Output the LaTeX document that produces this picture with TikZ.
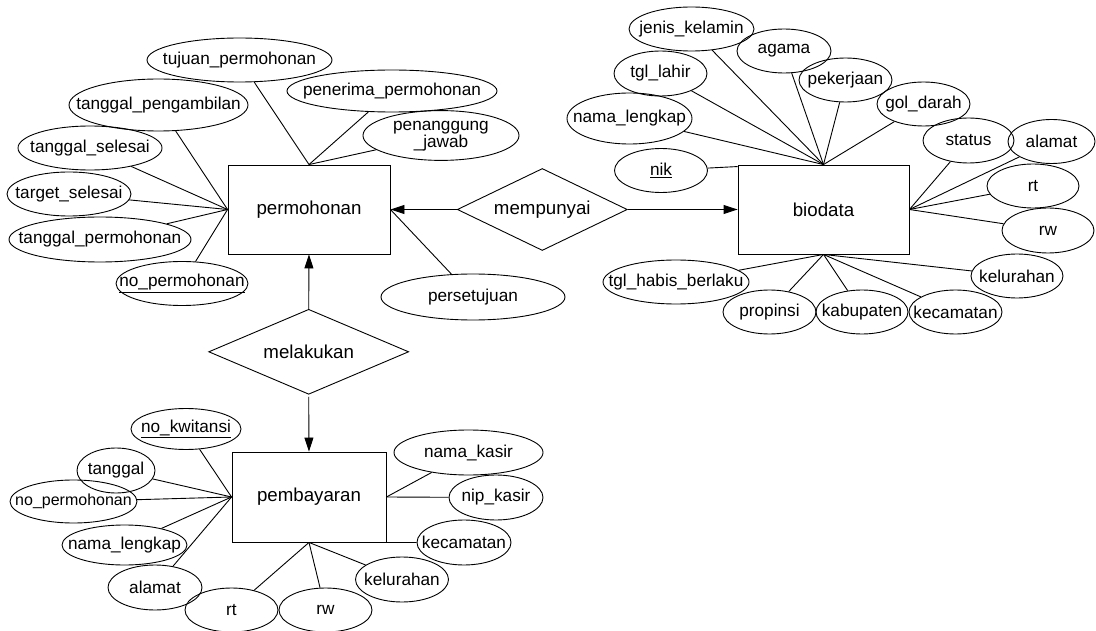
\documentclass[tikz,border=0pt]{standalone}
\usepackage{fontspec}
\setmainfont{Liberation Sans}
\usetikzlibrary{shapes.geometric,arrows.meta}
\newcommand\zb[1]{\makebox[0pt]{#1}}
\begin{document}
\begin{tikzpicture}[x=1pt,y=-1pt,line width=0.9pt,
  ent/.style 2 args={draw, rectangle, minimum width=#1, minimum height=#2, inner sep=0pt, font=\fontsize{18.7}{22}\selectfont},
  rel/.style 2 args={draw, diamond, minimum width=#1, minimum height=#2, inner sep=0pt, font=\fontsize{18.7}{22}\selectfont},
  attr/.style 2 args={draw, ellipse, minimum width=#1, minimum height=#2, inner sep=0pt, font=\fontsize{17.2}{17.5}\selectfont},
  small/.style={font=\fontsize{16}{17}\selectfont},
  arr/.style={-{Triangle[length=14pt,width=9pt]}}]
\useasboundingbox (0,0) rectangle (1096,631);

% entities
\node[ent={162}{89}] (perm) at (309,209.5) {permohonan};
\node[ent={171}{89}] (bio) at (823.5,209.5) {biodata};
\node[ent={154}{90}] (pemb) at (309,497) {pembayaran};

% relationships
\node[rel={170}{82}] (memp) at (542.3,209.5) {\zb{mempunyai}};
\node[rel={200}{85}] (melk) at (308.7,351.8) {\zb{melakukan}};

\draw[arr] (memp.west) -- (perm.east);
\draw[arr] (memp.east) -- (bio.west);
\draw[arr] (melk.north) -- (perm.south);
\draw[arr] ([yshift=-2pt]melk.south) -- (pemb.north);

% permohonan attributes
\node[attr={185}{44}] (a1) at (239.5,60) {\zb{tujuan\_permohonan}};
\node[attr={210}{42}] (a2) at (392,91) {\zb{penerima\_permohonan}};
\node[attr={156}{45}] (a3) at (441,135.5) {\zb{\begin{tabular}{@{}c@{}}penanggung\\\_jawab\end{tabular}}};
\node[attr={179}{52}] (a4) at (158.5,105) {\zb{tanggal\_pengambilan}};
\node[attr={144}{44}] (a5) at (90,148) {\zb{tanggal\_selesai}};
\node[attr={124}{44}] (a6) at (69,194) {\zb{target\_selesai}};
\node[attr={182}{45}] (a7) at (100,239.5) {\zb{tanggal\_permohonan}};
\node[attr={132}{44}] (a8) at (182,283.5) {\zb{\underline{no\_permohonan}}};
\node[attr={184}{46}] (a9) at (473,297) {\zb{persetujuan}};

\foreach \n in {a1,a2,a3} \draw (\n) -- (perm.north);
\foreach \n in {a4,a5,a6,a7,a8} \draw (\n) -- (perm.west);
\draw (a9) -- (perm.east);

% biodata attributes
\node[attr={125}{44}] (b1) at (691.5,29) {\zb{jenis\_kelamin}};
\node[attr={94}{44}] (b2) at (784,51) {\zb{agama}};
\node[attr={93}{44}] (b3) at (845.5,80) {\zb{pekerjaan}};
\node[attr={93}{44}] (b4) at (923.5,104) {\zb{gol\_darah}};
\node[attr={93}{45}] (b5) at (660.5,73.5) {\zb{tgl\_lahir}};
\node[attr={125}{51}] (b6) at (629.5,118.5) {\zb{nama\_lengkap}};
\node[attr={93}{44}] (b7) at (661,170.5) {\zb{\underline{nik}}};
\node[attr={91}{45}] (b8) at (968.5,140.5) {\zb{status}};
\node[attr={87}{44}] (b9) at (1051.5,141.5) {\zb{alamat}};
\node[attr={92}{44}] (b10) at (1033,186) {\zb{rt}};
\node[attr={92}{45}] (b11) at (1048,230.5) {\zb{rw}};
\node[attr={92}{44}] (b12) at (1017,276) {\zb{kelurahan}};
\node[attr={93}{44}] (b13) at (955.5,312) {\zb{kecamatan}};
\node[attr={92}{44}] (b14) at (862,312) {\zb{kabupaten}};
\node[attr={93}{44}] (b15) at (769.5,312) {\zb{propinsi}};
\node[attr={146}{44}] (b16) at (676,282) {\zb{tgl\_habis\_berlaku}};

\coordinate (nikend) at ([yshift=-2pt]bio.north west);
\foreach \n in {b1,b2,b3,b4,b5,b6} \draw (\n) -- (bio.north);
\draw (b7) -- (nikend);
\foreach \n in {b8,b9,b10,b11} \draw (\n) -- (bio.east);
\foreach \n in {b12,b13,b14,b15,b16} \draw (\n) -- (bio.south);

% pembayaran attributes
\node[attr={110}{41}] (c1) at (186,429) {\zb{\underline{no\_kwitansi}}};
\node[attr={78}{45}] (c2) at (116,470.5) {\zb{tanggal}};
\node[attr={127}{43},small] (c3) at (73.5,501.5) {\zb{no\_permohonan}};
\node[attr={125}{40}] (c4) at (124.5,545) {\zb{nama\_lengkap}};
\node[attr={94}{45}] (c5) at (155,587.5) {\zb{alamat}};
\node[attr={93}{44}] (c6) at (231.5,610) {\zb{rt}};
\node[attr={93}{44}] (c7) at (325.5,610) {\zb{rw}};
\node[attr={93}{45}] (c8) at (402,579.5) {\zb{kelurahan}};
\node[attr={94}{45}] (c9) at (464,542.5) {\zb{kecamatan}};
\node[attr={149}{45}] (c10) at (468.5,452.5) {\zb{nama\_kasir}};
\node[attr={94}{45}] (c11) at (496,497.5) {\zb{nip\_kasir}};

\foreach \n in {c1,c2,c3,c4,c5} \draw (\n) -- (pemb.west);
\foreach \n in {c6,c7,c8} \draw (\n) -- (pemb.south);
\draw (c9) -- (pemb.south east);
\foreach \n in {c10,c11} \draw (\n) -- (pemb.east);
\end{tikzpicture}
\end{document}
